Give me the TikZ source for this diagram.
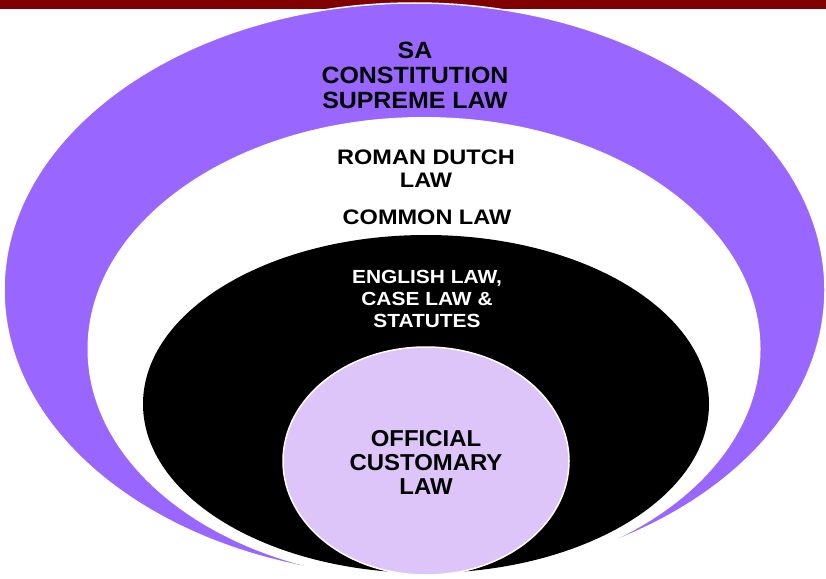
\documentclass[tikz,border=0pt]{standalone}
\usepackage{fontspec}
\setmainfont{Liberation Sans}
\usetikzlibrary{shapes.geometric}
\definecolor{barred}{HTML}{800000}
\definecolor{lawpurple}{HTML}{9966FF}
\definecolor{lawlilac}{HTML}{DDC4F9}
\tikzset{
  ring/.style={ellipse, inner sep=0pt, outer sep=0pt},
  lawtext/.style 2 args={align=center, inner sep=0pt, font=\bfseries\fontsize{#1}{#1}\selectfont\addfontfeature{FakeStretch=#2}},
}
\begin{document}
\begin{tikzpicture}[x=1pt,y=-1pt]
\clip (0,0) rectangle (826,578);
\fill[white] (0,0) rectangle (826,578);
\fill[barred] (0,0) rectangle (826,9);
\node[ring, fill=lawpurple, draw=white, line width=1.5pt, minimum width=821pt, minimum height=574pt] (outer) at (414.5,290) {};
\node[ring, fill=white, minimum width=673pt, minimum height=464pt] (mid) at (424,349) {};
\node[ring, fill=black, minimum width=566pt, minimum height=338pt] (core) at (426,404) {};
\node[ring, fill=lawlilac, draw=white, line width=1.5pt, minimum width=286pt, minimum height=228pt] (inner) at (426,461) {};
\node[lawtext={23.5}{1.06}, text=black] (sa) at (415,75) {SA\\[1.5pt]CONSTITUTION\\[1.5pt]SUPREME LAW};
\node[lawtext={21}{1.12}, text=black] (rd) at (426,169) {ROMAN DUTCH\\[2pt]LAW};
\node[lawtext={21}{1.12}, text=black] (cl) at (427,217.5) {COMMON LAW};
\node[lawtext={19}{1.1}, text=white] (en) at (427,298.5) {ENGLISH LAW,\\[3pt]CASE LAW \&\\[3pt]STATUTES};
\node[lawtext={23}{1.04}, text=black] (oc) at (426,462) {OFFICIAL\\[1pt]CUSTOMARY\\[1pt]LAW};
\end{tikzpicture}
\end{document}
